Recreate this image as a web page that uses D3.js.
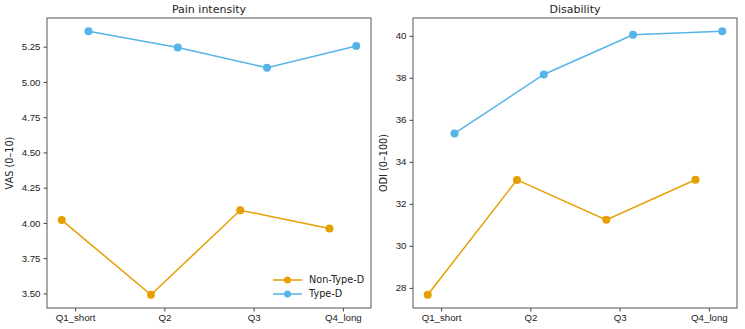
<!DOCTYPE html>
<html>
<head>
<meta charset="utf-8">
<script src="https://cdn.jsdelivr.net/npm/d3@7"></script>
<style>
  body { margin: 0; background: #fff; }
  svg { font-family: "DejaVu Sans", sans-serif; }
</style>
</head>
<body>
<div id="chart"></div>
<script>
// data
var quartiles = ["Q1_short", "Q2", "Q3", "Q4_long"];
var seriesNames = ["Non-Type-D", "Type-D"];
var colors = ["#E69F00", "#56B4E9"];

var vasNonTypeD = [4.02, 3.49, 4.09, 3.96];
var vasTypeD = [5.36, 5.245, 5.10, 5.255];
var vasTicks = [3.50, 3.75, 4.00, 4.25, 4.50, 4.75, 5.00, 5.25];

var odiNonTypeD = [27.67, 33.14, 31.24, 33.15];
var odiTypeD = [35.35, 38.16, 40.05, 40.22];
var odiTicks = [28, 30, 32, 34, 36, 38, 40];

var width = 745, height = 329;
var svg = d3.select("#chart").append("svg")
  .attr("width", width)
  .attr("height", height);

// groups are dodged a bit either side of the tick
var offsets = [-0.15, 0.15];

function panel(opts) {
  var m = opts.box;
  var g = svg.append("g");

  var x = d3.scaleLinear().domain([-0.315, 3.315]).range([m.left, m.right]);
  var all = opts.series[0].concat(opts.series[1]);
  var lo = d3.min(all), hi = d3.max(all), pad = (hi - lo) * 0.05;
  var y = d3.scaleLinear().domain([lo - pad, hi + pad]).range([m.bottom, m.top]);

  var yAxis = d3.axisLeft(y).tickValues(opts.ticks).tickFormat(opts.fmt).tickSize(3.5).tickPadding(3);
  g.append("g").attr("transform", "translate(" + m.left + ",0)").call(yAxis);

  var xAxis = d3.axisBottom(x).tickValues([0, 1, 2, 3]).tickFormat(function(d){ return quartiles[d]; }).tickSize(3.5).tickPadding(3);
  g.append("g").attr("transform", "translate(0," + m.bottom + ")").call(xAxis);

  g.selectAll(".domain").remove();
  g.selectAll(".tick line").attr("stroke", "#444");
  g.selectAll(".tick text").attr("fill", "#222").style("font-size", "9.7px");

  // frame
  g.append("rect")
    .attr("x", m.left).attr("y", m.top)
    .attr("width", m.right - m.left).attr("height", m.bottom - m.top)
    .attr("fill", "none").attr("stroke", "#555").attr("stroke-width", 1);

  opts.series.forEach(function(vals, i) {
    var line = d3.line()
      .x(function(d, j){ return x(j + offsets[i]); })
      .y(function(d){ return y(d); });
    g.append("path").datum(vals)
      .attr("d", line)
      .attr("fill", "none")
      .attr("stroke", colors[i])
      .attr("stroke-width", 1.5);
    g.selectAll(".pt" + i).data(vals).enter().append("circle")
      .attr("cx", function(d, j){ return x(j + offsets[i]); })
      .attr("cy", function(d){ return y(d); })
      .attr("r", 4)
      .attr("fill", colors[i]);
  });

  g.append("text")
    .attr("x", (m.left + m.right) / 2).attr("y", 13)
    .attr("text-anchor", "middle")
    .style("font-size", "11px").attr("fill", "#222")
    .text(opts.title);

  g.append("text")
    .attr("transform", "translate(" + opts.labelX + "," + ((m.top + m.bottom) / 2) + ") rotate(-90)")
    .attr("text-anchor", "middle")
    .attr("dy", "0.35em")
    .style("font-size", "9.7px").attr("fill", "#222")
    .text(opts.ylabel);

  return g;
}

var left = panel({
  box: {left: 47, right: 371, top: 18, bottom: 308},
  series: [vasNonTypeD, vasTypeD],
  ticks: vasTicks,
  fmt: d3.format(".2f"),
  title: "Pain intensity",
  ylabel: "VAS (0\u201310)",
  labelX: 10
});

panel({
  box: {left: 413, right: 737, top: 18, bottom: 308},
  series: [odiNonTypeD, odiTypeD],
  ticks: odiTicks,
  fmt: d3.format("d"),
  title: "Disability",
  ylabel: "ODI (0\u2013100)",
  labelX: 384
});

// legend, lower right of first panel, no frame
var legend = left.append("g").attr("transform", "translate(273,280)");
seriesNames.forEach(function(name, i) {
  var row = legend.append("g").attr("transform", "translate(0," + (i * 14) + ")");
  row.append("line").attr("x1", 0).attr("x2", 29).attr("y1", 0).attr("y2", 0)
    .attr("stroke", colors[i]).attr("stroke-width", 1.5);
  row.append("circle").attr("cx", 14.5).attr("cy", 0).attr("r", 3.5).attr("fill", colors[i]);
  row.append("text").attr("x", 36).attr("y", 0).attr("dy", "0.35em")
    .style("font-size", "9.7px").attr("fill", "#222").text(name);
});
</script>
</body>
</html>
